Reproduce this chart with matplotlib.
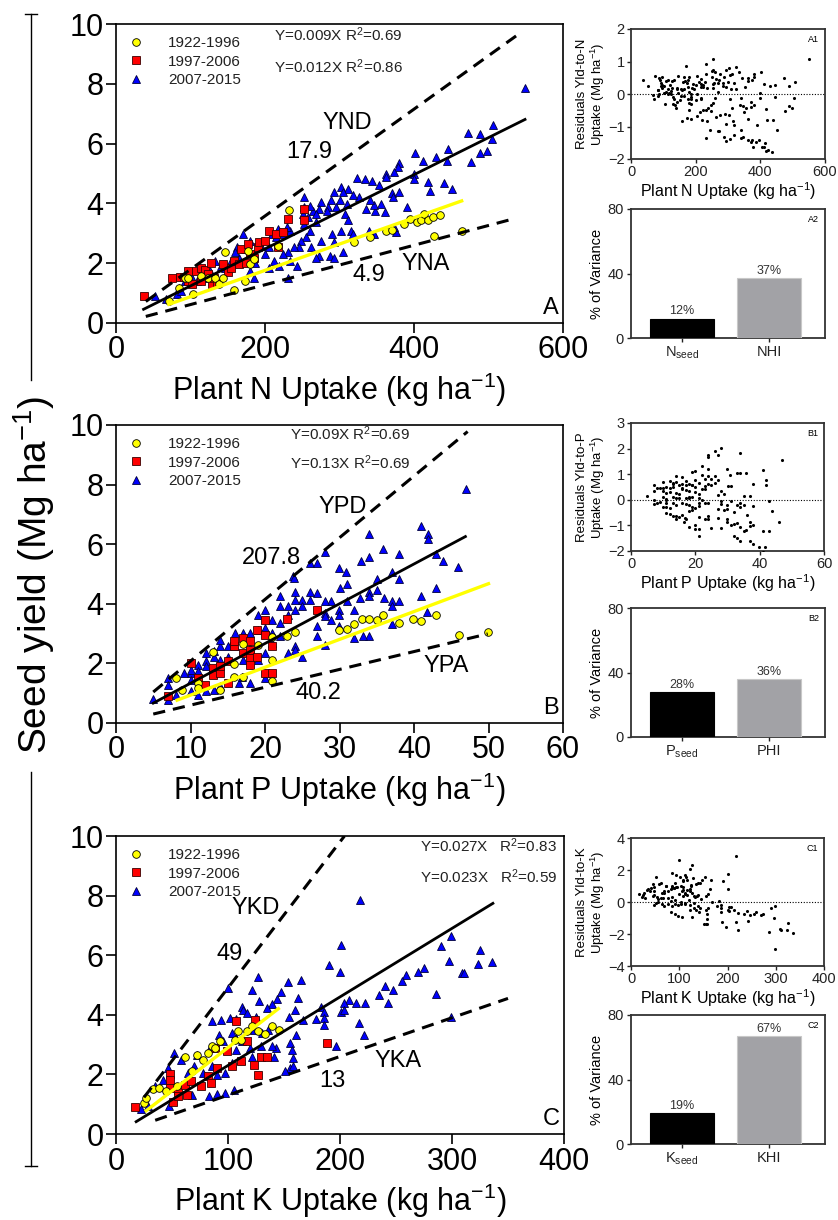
import matplotlib
matplotlib.use('Agg')
import matplotlib.pyplot as plt
from matplotlib.lines import Line2D
import numpy as np

plt.rcParams['font.family'] = ['Liberation Sans', 'DejaVu Sans']
plt.rcParams['mathtext.fontset'] = 'custom'
plt.rcParams['mathtext.rm'] = 'Liberation Sans'
plt.rcParams['mathtext.it'] = 'Liberation Sans'
plt.rcParams['mathtext.bf'] = 'Liberation Sans:bold'
plt.rcParams['mathtext.default'] = 'regular'

# ---------------- data ----------------
# Panel A : N uptake (kg/ha) vs seed yield (Mg/ha)
n_old = np.array([[71, 0.73], [85, 1.18], [92, 1.49], [97, 1.49], [104, 0.98], [114, 1.57],
                  [123, 1.52], [133, 1.49], [138, 1.29], [143, 1.52], [146, 2.36], [158, 1.12],
                  [173, 1.40], [177, 2.42], [180, 1.97], [185, 2.13], [217, 2.58], [232, 3.79],
                  [319, 2.70], [341, 2.87], [363, 3.09], [371, 3.11], [386, 3.31], [395, 3.48],
                  [404, 3.39], [410, 3.45], [414, 3.63], [419, 3.43], [425, 3.54], [427, 2.92],
                  [435, 3.62], [465, 3.07]])
n_mid = np.array([[38, 0.90], [75, 1.49], [86, 1.55], [91, 1.55], [97, 1.40], [97, 1.74],
                  [102, 1.29], [108, 1.74], [114, 1.85], [114, 1.40], [120, 1.76], [123, 1.63],
                  [127, 1.99], [129, 1.29], [131, 1.52], [136, 1.35], [143, 1.97], [150, 1.69],
                  [155, 1.85], [158, 2.08], [165, 1.97], [168, 2.47], [175, 2.02], [177, 2.64],
                  [180, 2.30], [185, 2.19], [190, 2.53], [192, 2.70], [200, 2.75], [205, 3.09],
                  [215, 2.98], [217, 2.55], [224, 3.06], [231, 3.48], [252, 3.82], [253, 3.43]])
n_new = np.array([[549, 7.87], [473, 6.35], [488, 6.31], [506, 6.63], [505, 6.15], [476, 5.38],
                  [489, 5.70], [498, 5.75], [446, 5.82], [444, 5.42], [429, 5.56], [412, 5.42],
                  [402, 5.67], [400, 5.00], [400, 4.83], [419, 4.72], [422, 4.42], [440, 4.67],
                  [451, 4.49], [380, 5.34], [379, 5.22], [373, 5.06], [363, 5.00], [362, 4.89],
                  [353, 4.60], [344, 4.75], [334, 4.81], [324, 4.85], [370, 4.35], [372, 4.21],
                  [380, 4.38], [391, 3.88], [361, 3.71], [348, 3.76], [346, 3.93], [341, 4.10],
                  [336, 3.82], [326, 4.21], [318, 4.27], [312, 4.49], [302, 4.55], [305, 4.38],
                  [293, 4.38], [300, 4.10], [288, 4.10], [285, 3.88], [275, 4.04], [273, 3.82],
                  [264, 3.74], [260, 3.91], [253, 4.21], [253, 3.88], [251, 3.65], [258, 3.54],
                  [307, 3.65], [312, 3.43], [315, 3.09], [318, 2.98], [302, 3.09], [293, 2.70],
                  [290, 2.98], [275, 2.75], [260, 3.09], [255, 2.87], [248, 2.75], [246, 2.53],
                  [262, 2.53], [273, 2.25], [268, 2.19], [287, 2.25], [293, 2.19], [305, 2.39],
                  [356, 3.99], [376, 3.03], [373, 3.20], [346, 2.98], [339, 3.09], [243, 1.91],
                  [234, 2.08], [231, 1.52], [231, 2.36], [224, 2.30], [219, 1.91], [212, 2.08],
                  [205, 1.85], [187, 2.02], [180, 1.74], [185, 1.52], [234, 3.09], [229, 3.20],
                  [224, 2.98], [217, 3.15], [215, 2.87], [210, 2.98], [205, 2.53], [200, 2.30],
                  [195, 2.58], [185, 2.30], [180, 2.75], [173, 2.47], [165, 2.19], [163, 2.53],
                  [155, 2.08], [146, 1.85], [141, 1.91], [133, 2.08], [126, 1.74], [119, 1.52],
                  [109, 1.40], [102, 1.52], [92, 1.40], [85, 1.18], [82, 0.96], [87, 1.07],
                  [53, 0.90], [67, 0.79], [239, 2.53], [170, 2.98], [160, 2.36], [253, 3.31],
                  [268, 3.65], [283, 3.76], [295, 3.88], [310, 3.99], [268, 3.37]])
n_fit_all, n_fit_all_range = 0.0124, [37, 549]
n_fit_old, n_fit_old_range = 0.0088, [71, 464]
n_upper = [[40, 537], [0.72, 9.6]]
n_lower = [[40, 536], [0.22, 3.5]]
n_var = [12, 37]

# Panel B : P uptake
p_old = np.array([[8.0, 1.51], [8.9, 1.12], [11.0, 1.34], [11.0, 1.17], [13.0, 2.37], [14.0, 1.12],
                  [15.9, 1.98], [15.9, 1.53], [17.0, 1.53], [17.0, 2.66], [19.0, 2.63], [21.0, 2.88],
                  [21.0, 2.12], [21.0, 1.40], [23.0, 2.93], [24.0, 3.07], [29.9, 3.11], [31.0, 3.15],
                  [32.0, 3.32], [33.0, 3.49], [34.0, 3.49], [35.0, 3.44], [35.9, 3.62], [38.0, 3.35],
                  [39.9, 3.49], [41.0, 3.43], [43.0, 3.62], [46.0, 2.95], [49.9, 3.06]])
p_mid = np.array([[7.0, 0.92], [10.0, 2.03], [11.0, 1.51], [12.0, 1.28], [13.0, 1.84], [13.0, 1.62],
                  [14.0, 1.68], [14.0, 1.92], [15.0, 2.07], [15.0, 1.34], [15.9, 2.57], [15.9, 2.74],
                  [17.0, 2.85], [17.0, 2.35], [18.0, 2.74], [18.0, 2.46], [18.0, 2.18], [18.0, 1.96],
                  [18.9, 2.23], [18.9, 3.11], [20.0, 3.46], [20.0, 2.96], [20.0, 1.68], [21.0, 2.57],
                  [21.0, 1.68], [22.9, 3.49], [27.0, 3.80]])
p_new = np.array([[47.0, 7.84], [40.9, 6.61], [41.9, 6.35], [41.9, 6.17], [34.0, 6.35], [43.0, 5.68],
                  [43.9, 5.42], [45.9, 5.25], [35.9, 5.83], [38.0, 5.68], [28.0, 5.75], [26.0, 5.36],
                  [27.0, 5.36], [23.8, 4.92], [23.9, 4.86], [29.9, 5.20], [30.9, 5.08], [30.0, 4.53],
                  [31.0, 4.67], [32.9, 5.42], [33.9, 5.56], [35.0, 4.83], [35.0, 4.47], [38.0, 4.83],
                  [40.9, 4.25], [43.0, 4.53], [41.8, 3.74], [34.0, 4.41], [34.0, 4.27], [32.8, 4.19],
                  [32.0, 3.80], [31.0, 4.08], [29.9, 3.80], [29.9, 3.63], [28.9, 4.08], [28.0, 4.08],
                  [28.0, 3.69], [28.0, 3.58], [27.0, 4.36], [26.0, 4.41], [26.0, 4.13], [25.0, 4.13],
                  [25.0, 3.91], [24.0, 4.41], [24.0, 4.13], [24.0, 3.80], [23.1, 3.91], [23.1, 3.63],
                  [22.0, 4.25], [22.0, 3.91], [22.0, 3.35], [21.0, 3.46], [21.0, 3.02], [20.0, 3.80],
                  [20.0, 3.18], [19.0, 3.63], [19.0, 3.13], [18.0, 3.02], [17.0, 3.02], [16.0, 3.02],
                  [27.0, 3.24], [27.0, 2.91], [28.9, 3.46], [29.9, 3.24], [31.9, 2.85], [34.0, 2.91],
                  [37.0, 4.08], [37.0, 3.91], [37.0, 3.33], [38.0, 4.08], [36.0, 4.19], [33.1, 2.91],
                  [28.0, 2.63], [25.0, 2.23], [23.1, 2.35], [24.0, 2.57], [24.0, 2.46], [22.0, 2.91],
                  [21.0, 2.68], [20.0, 2.35], [19.0, 2.12], [18.0, 2.51], [17.0, 2.12], [16.0, 2.57],
                  [15.0, 2.23], [15.0, 2.57], [14.0, 2.57], [14.0, 2.12], [14.0, 2.79], [13.1, 2.40],
                  [13.1, 2.23], [12.1, 2.35], [12.1, 2.07], [12.1, 1.90], [11.0, 1.96], [11.0, 1.73],
                  [11.0, 1.45], [10.0, 1.68], [10.0, 1.45], [10.0, 1.79], [9.1, 1.68], [7.0, 1.51],
                  [7.0, 1.28], [7.0, 0.78], [5.0, 0.80], [8.0, 0.95], [10.0, 1.06], [11.0, 0.95],
                  [12.1, 1.06], [13.1, 1.12], [14.0, 1.23], [16.5, 1.34], [18.0, 1.34], [20.0, 1.51],
                  [16.9, 1.56], [37.0, 5.08]])
p_fit_all, p_fit_all_range = 0.1334, [5, 46.9]
p_fit_old, p_fit_old_range = 0.0935, [8.2, 50]
p_upper = [[5, 47.2], [1.04, 9.78]]
p_lower = [[5, 49.9], [0.30, 2.99]]
p_var = [28, 36]

# Panel C : K uptake
k_old = np.array([[25.4, 1.04], [27.0, 1.21], [32.6, 1.51], [38.4, 1.54], [45.0, 1.43], [54.7, 1.60],
                  [61.9, 2.60], [67.8, 2.10], [72.6, 2.66], [82.4, 2.72], [85.7, 2.96], [88.3, 2.88],
                  [93.2, 3.11], [106.2, 3.16], [108.5, 3.44], [111.7, 3.16], [116.6, 3.44],
                  [121.5, 3.61], [126.4, 3.44], [132.9, 3.35], [139.4, 3.63], [145.3, 3.50],
                  [77.5, 2.49]])
k_mid = np.array([[17.3, 0.91], [48.2, 2.02], [48.2, 1.82], [48.2, 1.54], [50.8, 1.09], [55.7, 1.49],
                  [55.7, 1.26], [61.2, 1.65], [63.8, 1.32], [67.1, 1.77], [75.9, 1.60], [82.4, 1.93],
                  [85.0, 1.71], [88.3, 2.88], [90.6, 2.21], [98.7, 2.77], [103.6, 2.27], [106.8, 3.78],
                  [111.7, 2.44], [116.6, 3.11], [123.0, 2.32], [124.0, 3.83], [126.4, 1.99],
                  [129.6, 2.58], [134.5, 2.58], [188.3, 3.05]])
k_new = np.array([[217.6, 7.85], [299, 6.63], [290, 6.31], [201, 6.35], [325, 6.16], [190, 5.68],
                  [297, 5.82], [309, 5.40], [310.5, 5.40], [323, 5.70], [336, 5.77], [200, 5.42],
                  [127, 5.26], [154, 5.10], [165, 5.17], [274.6, 5.56], [269.7, 5.42], [259, 5.34],
                  [255, 5.12], [247, 4.84], [240, 4.98], [235, 4.67], [243, 4.41], [286, 4.70],
                  [299, 3.92], [208, 4.50], [214, 4.41], [222, 4.41], [204, 4.39], [201, 4.11],
                  [204, 4.15], [183, 4.26], [186, 4.08], [186, 3.89], [186, 3.66], [178.5, 3.85],
                  [167, 3.83], [162.9, 4.56], [159.6, 4.15], [154.7, 3.94], [147.6, 4.75], [144, 4.52],
                  [139, 4.37], [134.5, 4.22], [128, 4.45], [121.5, 4.84], [112.7, 4.26], [107, 3.85],
                  [99.7, 4.89], [102, 3.89], [93.8, 3.83], [85.7, 3.78], [92, 3.33], [95.4, 3.11],
                  [107, 3.22], [113, 4.17], [116.6, 4.06], [123, 3.50], [130, 3.39], [136, 3.50],
                  [142.7, 2.88], [129.6, 2.94], [121.5, 2.60], [111.7, 2.49], [107, 2.83],
                  [103.6, 2.38], [97, 2.04], [90.6, 1.99], [85.7, 2.27], [77.5, 2.04], [69.4, 2.27],
                  [64.5, 2.04], [58, 2.49], [51.5, 2.72], [46.6, 2.21], [41.7, 1.82], [35.2, 1.60],
                  [28.7, 0.93], [22.1, 0.84], [47.6, 0.93], [67.8, 1.32], [83.4, 1.28], [90.6, 1.35],
                  [97.7, 1.37], [105, 1.49], [141, 2.60], [139, 2.94], [155.7, 3.05], [157, 2.83],
                  [158.3, 2.55], [155.7, 2.21], [158.3, 2.27], [150.8, 2.10], [160.6, 3.33],
                  [196.4, 2.94], [217, 3.72], [221.8, 3.33], [84, 2.88], [72.6, 2.66], [120, 2.88],
                  [103.6, 3.39], [112.7, 3.11], [124.8, 3.94]])
k_fit_all, k_fit_all_range = 0.023, [18, 336.5]
k_fit_old, k_fit_old_range = 0.029, [27, 145]
k_upper = [[25, 204], [1.23, 10.0]]
k_lower = [[35, 350], [0.46, 4.55]]
k_var = [19, 67]

series_labels = ['1922-1996', '1997-2006', '2007-2015']

# ---------------- layout ----------------
W, H = 838, 1220
fig = plt.figure(figsize=(W / 100, H / 100), dpi=100)


def rect(x0, y0, x1, y1):
    return [x0 / W, 1 - y1 / H, (x1 - x0) / W, (y1 - y0) / H]


OLD = dict(marker='o', ls='none', ms=5.5, mfc='#ffff00', mec='black', mew=0.6)
MID = dict(marker='s', ls='none', ms=5.5, mfc='#ff0000', mec='#3a0000', mew=0.6)
NEW = dict(marker='^', ls='none', ms=6, mfc='#0000ff', mec='#00003a', mew=0.6)


def main_panel(ax, old, mid, new, fit_all, fit_all_rng, fit_old, fit_old_rng, upper, lower,
               notes, eqs, eq_x, eq_y, eq_ha, tag, xmax, xstep, xlabel):
    ax.plot(new[:, 0], new[:, 1], **NEW, zorder=3)
    ax.plot(mid[:, 0], mid[:, 1], **MID, zorder=4)
    ax.plot(old[:, 0], old[:, 1], **OLD, zorder=5)
    xa = np.array(fit_all_rng)
    ax.plot(xa, fit_all * xa, color='black', lw=2, zorder=6)
    xo = np.array(fit_old_rng)
    ax.plot(xo, fit_old * xo, color='#ffff00', lw=2.4, zorder=6)
    for xs, ys in (upper, lower):
        ax.plot(xs, ys, color='black', lw=2.2, dashes=(4, 2.6), zorder=6)
    for (tx, ty, s) in notes:
        ax.text(tx, ty, s, fontsize=17, ha='center', va='center', zorder=7)
    for e, yy in zip(eqs, eq_y):
        ax.text(eq_x, yy, e, transform=ax.transAxes, fontsize=11, ha=eq_ha, va='center',
                color='#222222')
    ax.text(0.99, 0.015, tag, transform=ax.transAxes, fontsize=17, ha='right', va='bottom')
    handles = [Line2D([], [], **OLD), Line2D([], [], **MID), Line2D([], [], **NEW)]
    ax.legend(handles, series_labels, loc='upper left', frameon=False, fontsize=11,
              handlelength=1.0, handletextpad=1.6, labelspacing=0.3, borderpad=0.2,
              borderaxespad=0.6, labelcolor='#222222')
    ax.set_xlim(0, xmax)
    ax.set_ylim(0, 10)
    ax.set_xticks(np.arange(0, xmax + 1e-9, xstep))
    ax.set_yticks(np.arange(0, 10.1, 2))
    ax.tick_params(direction='out', length=7, width=1.2, labelsize=22, pad=2)
    for sp in ax.spines.values():
        sp.set_linewidth(1.2)
    ax.set_xlabel(xlabel, fontsize=22, labelpad=4)


def resid_panel(ax, groups, slope, xmax, xstep, ylo, yhi, ystep, ylabel, xlabel, tag):
    pts = np.vstack(groups)
    res = pts[:, 1] - slope * pts[:, 0]
    ax.scatter(pts[:, 0], res, s=5, c='black', linewidths=0, zorder=3)
    ax.axhline(0, color='black', lw=0.8, ls=(0, (1, 1.5)), zorder=2)
    ax.set_xlim(0, xmax)
    ax.set_ylim(ylo, yhi)
    ax.set_xticks(np.arange(0, xmax + 1e-9, xstep))
    ax.set_yticks(np.arange(ylo, yhi + 1e-9, ystep))
    ax.tick_params(direction='out', length=3, width=1, labelsize=10.5, pad=1.5, colors='#222222')
    for sp in ax.spines.values():
        sp.set_linewidth(1.3)
        sp.set_color('#333333')
    ax.set_ylabel(ylabel, fontsize=9.5, linespacing=1.05)
    ax.yaxis.set_label_coords(-0.125, 0.5)
    ax.set_xlabel(xlabel, fontsize=11.5, labelpad=1)
    ax.text(0.97, 0.95, tag, transform=ax.transAxes, fontsize=6.5, ha='right', va='top')


def var_panel(ax, vals, names, tag):
    ax.bar([0, 1], vals, width=0.73, color=['black', '#a2a2a6'],
           edgecolor=['black', '#c8c8c8'], linewidth=0.8, zorder=3)
    for i, v in enumerate(vals):
        ax.text(i, v + 0.8, f'{v}%', ha='center', va='bottom', fontsize=9, color='#333333')
    ax.set_xlim(-0.58, 1.64)
    ax.set_ylim(0, 80)
    ax.set_yticks([0, 40, 80])
    ax.set_xticks([0, 1])
    ax.set_xticklabels(names, fontsize=10.5)
    ax.tick_params(direction='out', length=3, width=1, labelsize=10.5, pad=2, colors='#222222')
    ax.tick_params(axis='x', labelsize=10.5)
    for sp in ax.spines.values():
        sp.set_linewidth(1.3)
        sp.set_color('#333333')
    ax.set_ylabel('% of Variance', fontsize=10.5)
    ax.yaxis.set_label_coords(-0.14, 0.5)
    ax.text(0.97, 0.95, tag, transform=ax.transAxes, fontsize=6.5, ha='right', va='top')


# ---- panel A ----
axA = fig.add_axes(rect(116, 24, 563, 323))
main_panel(axA, n_old, n_mid, n_new, n_fit_all, n_fit_all_range, n_fit_old, n_fit_old_range,
           n_upper, n_lower,
           [(311, 6.69, 'YND'), (259, 5.73, '17.9'), (416, 1.97, 'YNA'), (339, 1.6, '4.9')],
           ['Y=0.009X R$^2$=0.69', 'Y=0.012X R$^2$=0.86'], 0.353, [0.963, 0.856], 'left',
           'A', 600, 200, 'Plant N Uptake (kg ha$^{-1}$)')

axA1 = fig.add_axes(rect(631, 29, 825, 159))
resid_panel(axA1, [n_old, n_mid, n_new], n_fit_all, 600, 200, -2, 2, 1,
            'Residuals Yld-to-N\nUptake (Mg ha$^{-1}$)', 'Plant N Uptake (kg ha$^{-1}$)', 'A1')
axA2 = fig.add_axes(rect(631, 209, 825, 338))
var_panel(axA2, n_var, ['N$_{seed}$', 'NHI'], 'A2')

# ---- panel B ----
axB = fig.add_axes(rect(116, 425, 563, 723))
main_panel(axB, p_old, p_mid, p_new, p_fit_all, p_fit_all_range, p_fit_old, p_fit_old_range,
           p_upper, p_lower,
           [(30.4, 7.26, 'YPD'), (20.9, 5.53, '207.8'), (44.3, 1.9, 'YPA'), (27.2, 1.0, '40.2')],
           ['Y=0.09X R$^2$=0.69', 'Y=0.13X R$^2$=0.69'], 0.389, [0.97, 0.872], 'left',
           'B', 60, 10, 'Plant P Uptake (kg ha$^{-1}$)')

axB1 = fig.add_axes(rect(631, 423, 824, 551))
resid_panel(axB1, [p_old, p_mid, p_new], p_fit_all, 60, 20, -2, 3, 1,
            'Residuals Yld-to-P\nUptake (Mg ha$^{-1}$)', 'Plant P Uptake (kg ha$^{-1}$)', 'B1')
axB2 = fig.add_axes(rect(631, 608, 825, 737))
var_panel(axB2, p_var, ['P$_{seed}$', 'PHI'], 'B2')

# ---- panel C ----
axC = fig.add_axes(rect(116, 836, 564, 1134))
main_panel(axC, k_old, k_mid, k_new, k_fit_all, k_fit_all_range, k_fit_old, k_fit_old_range,
           k_upper, k_lower,
           [(124.8, 7.58, 'YKD'), (101.3, 6.04, '49'), (251.8, 2.44, 'YKA'), (193, 1.77, '13')],
           ['Y=0.027X   R$^2$=0.83', 'Y=0.023X   R$^2$=0.59'], 0.984, [0.966, 0.862], 'right',
           'C', 400, 100, 'Plant K Uptake (kg ha$^{-1}$)')

axC1 = fig.add_axes(rect(631, 838, 824, 966))
resid_panel(axC1, [k_old, k_mid, k_new], k_fit_all, 400, 100, -4, 4, 2,
            'Residuals Yld-to-K\nUptake (Mg ha$^{-1}$)', 'Plant K Uptake (kg ha$^{-1}$)', 'C1')
axC2 = fig.add_axes(rect(631, 1015, 825, 1144))
var_panel(axC2, k_var, ['K$_{seed}$', 'KHI'], 'C2')

# ---- shared y label with bracket ----
fig.text(34 / W, 1 - 575 / H, 'Seed yield (Mg ha$^{-1}$)', rotation=90, fontsize=28,
         ha='center', va='center')
bx = 31 / W
for y0, y1 in ((14, 380), (772, 1166)):
    fig.add_artist(Line2D([bx, bx], [1 - y0 / H, 1 - y1 / H], color='black', lw=1))
for yc in (14, 1166):
    fig.add_artist(Line2D([25 / W, 37 / W], [1 - yc / H, 1 - yc / H], color='black', lw=1))

fig.savefig('out.png', dpi=100, facecolor='white')
